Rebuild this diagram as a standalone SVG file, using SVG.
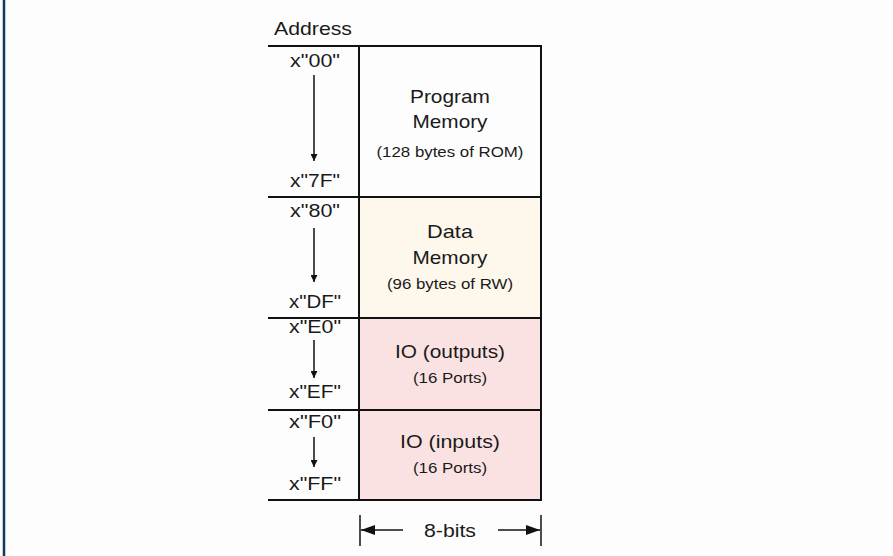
<svg xmlns="http://www.w3.org/2000/svg" width="893" height="556" viewBox="0 0 893 556">
<defs>
<style>
.t{font-family:"Liberation Sans",Arial,sans-serif;fill:#1a1a1a;text-anchor:middle}
.m{font-size:19px}
.s{font-size:15px}
.ln{stroke:#111;stroke-width:2;fill:none}
.bx{stroke:#111;stroke-width:2}
.ar{stroke:#111;stroke-width:1.5;fill:none}
</style>
<marker id="sm" viewBox="0 0 10 10" refX="10" refY="5" markerWidth="7" markerHeight="7" markerUnits="userSpaceOnUse" orient="auto"><path d="M0,0 L10,5 L0,10 z" fill="#111"/></marker>
<marker id="lg" viewBox="0 0 10 10" refX="10" refY="5" markerWidth="14" markerHeight="10" markerUnits="userSpaceOnUse" orient="auto" preserveAspectRatio="none"><path d="M0,0 L10,5 L0,10 z" fill="#111"/></marker>
</defs>
<rect width="893" height="556" fill="#fdfdfd"/>
<line x1="4" y1="0" x2="4" y2="556" stroke="#123a5e" stroke-width="2.5"/>
<text class="t m" x="313" y="35" textLength="78" lengthAdjust="spacingAndGlyphs">Address</text>
<g id="program-memory">
<rect x="359" y="46" width="182" height="151" fill="#fdfdfd" class="bx"/>
<text class="t m" x="450" y="103" textLength="80" lengthAdjust="spacingAndGlyphs">Program</text>
<text class="t m" x="450" y="128" textLength="75" lengthAdjust="spacingAndGlyphs">Memory</text>
<text class="t s" x="450" y="157" textLength="147" lengthAdjust="spacingAndGlyphs">(128 bytes of ROM)</text>
</g>
<g id="data-memory">
<rect x="359" y="197" width="182" height="121" fill="#fdf7ec" class="bx"/>
<text class="t m" x="450" y="238" textLength="46" lengthAdjust="spacingAndGlyphs">Data</text>
<text class="t m" x="450" y="264" textLength="75" lengthAdjust="spacingAndGlyphs">Memory</text>
<text class="t s" x="450" y="289" textLength="126" lengthAdjust="spacingAndGlyphs">(96 bytes of RW)</text>
</g>
<g id="io-outputs">
<rect x="359" y="318" width="182" height="92" fill="#fbe2e2" class="bx"/>
<text class="t m" x="450" y="358" textLength="110" lengthAdjust="spacingAndGlyphs">IO (outputs)</text>
<text class="t s" x="450" y="383" textLength="74" lengthAdjust="spacingAndGlyphs">(16 Ports)</text>
</g>
<g id="io-inputs">
<rect x="359" y="410" width="182" height="90" fill="#fbe2e2" class="bx"/>
<text class="t m" x="450" y="448" textLength="100" lengthAdjust="spacingAndGlyphs">IO (inputs)</text>
<text class="t s" x="450" y="473" textLength="74" lengthAdjust="spacingAndGlyphs">(16 Ports)</text>
</g>
<g id="address-labels">
<g class="ln">
<line x1="268" y1="46" x2="359" y2="46"/>
<line x1="268" y1="197" x2="359" y2="197"/>
<line x1="268" y1="318" x2="359" y2="318"/>
<line x1="268" y1="410" x2="359" y2="410"/>
<line x1="268" y1="500" x2="359" y2="500"/>
</g>
<text class="t m" x="315" y="67" textLength="50" lengthAdjust="spacingAndGlyphs">x"00"</text>
<text class="t m" x="315" y="187" textLength="50" lengthAdjust="spacingAndGlyphs">x"7F"</text>
<text class="t m" x="315" y="217" textLength="50" lengthAdjust="spacingAndGlyphs">x"80"</text>
<text class="t m" x="315" y="308" textLength="52" lengthAdjust="spacingAndGlyphs">x"DF"</text>
<text class="t m" x="315" y="333" textLength="52" lengthAdjust="spacingAndGlyphs">x"E0"</text>
<text class="t m" x="315" y="398" textLength="52" lengthAdjust="spacingAndGlyphs">x"EF"</text>
<text class="t m" x="315" y="428" textLength="52" lengthAdjust="spacingAndGlyphs">x"F0"</text>
<text class="t m" x="315" y="490" textLength="52" lengthAdjust="spacingAndGlyphs">x"FF"</text>
</g>
<g id="connectors">
<line class="ar" x1="314" y1="75" x2="314" y2="161" marker-end="url(#sm)"/>
<line class="ar" x1="314" y1="228" x2="314" y2="282" marker-end="url(#sm)"/>
<line class="ar" x1="314" y1="340" x2="314" y2="378" marker-end="url(#sm)"/>
<line class="ar" x1="314" y1="437" x2="314" y2="467" marker-end="url(#sm)"/>
<line class="ar" x1="360" y1="515" x2="360" y2="546"/>
<line class="ar" x1="541" y1="515" x2="541" y2="546"/>
<line class="ar" x1="403" y1="530" x2="361" y2="530" marker-end="url(#lg)"/>
<line class="ar" x1="498" y1="530" x2="540" y2="530" marker-end="url(#lg)"/>
</g>
<text class="t m" x="450" y="537" textLength="52" lengthAdjust="spacingAndGlyphs">8-bits</text>
</svg>
